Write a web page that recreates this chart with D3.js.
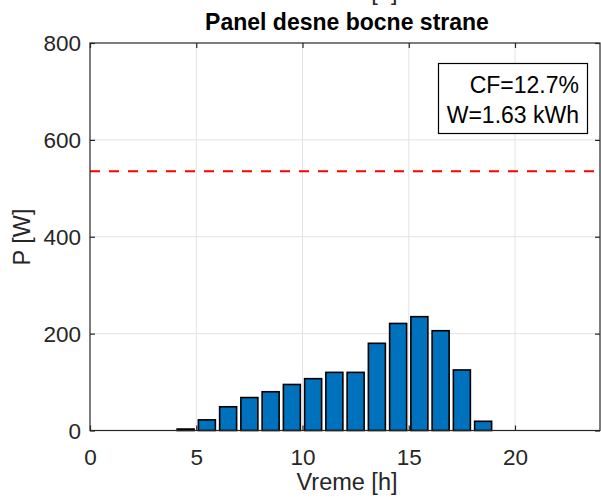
<!DOCTYPE html>
<html><head><meta charset="utf-8">
<script src="https://cdn.jsdelivr.net/npm/d3@7"></script>
<style>
body{margin:0;background:#fff}
svg text{font-family:"Liberation Sans",Arial,Helvetica,sans-serif}
</style>
</head><body>
<svg id="chart" width="601" height="500"></svg>
<script>
// ---- data ----
const hours = [0,1,2,3,4,5,6,7,8,9,10,11,12,13,14,15,16,17,18,19,20,21,22,23];
const power = [0,0,0,0,3,22,49,68,80,95,107,120,120,180,221,235,206,125,19,0,0,0,0,0];
const ratedPower = [535];
const xTicks = [0,5,10,15,20];
const yTicks = [0,200,400,600,800];
const titleText = "Panel desne bocne strane";
const xLabelText = "Vreme [h]";
const yLabelText = "P [W]";
const infoLines = ["CF=12.7%","W=1.63 kWh"];

// ---- layout ----
const L = 90, R = 600, T = 43, B = 430.5;
const svg = d3.select("#chart");
const x = d3.scaleLinear().domain([0,24]).range([L,R]);
const y = d3.scaleLinear().domain([0,800]).range([B,T]);
const axisColor = "#262626";
const tickFont = 22.5, labelFont = 23.5;

svg.append("rect").attr("width",601).attr("height",500).attr("fill","#fff");

// clipped-off x label of the panel above (only its lower edge is visible)
svg.append("text").attr("x",347).attr("y",0).attr("text-anchor","middle")
  .attr("font-size",labelFont).attr("fill",axisColor).text(xLabelText);

// grid
const grid = svg.append("g").attr("stroke","#e3e3e3").attr("stroke-width",1);
grid.selectAll("line.gx").data(xTicks.filter(d=>d>0)).join("line")
  .attr("x1",d=>x(d)).attr("x2",d=>x(d)).attr("y1",T).attr("y2",B);
grid.selectAll("line.gy").data(yTicks.filter(d=>d>0 && d<800)).join("line")
  .attr("y1",d=>y(d)).attr("y2",d=>y(d)).attr("x1",L).attr("x2",R);

// bars
const bw = 0.8;
svg.append("g").selectAll("rect").data(hours).join("rect")
  .attr("x",(h)=>x(h+0.5-bw/2))
  .attr("width",x(bw)-x(0))
  .attr("y",(h,i)=>y(power[i]))
  .attr("height",(h,i)=>y(0)-y(power[i]))
  .attr("fill","#0072BD").attr("stroke","#000").attr("stroke-width",1.6);

// rated power dashed line
svg.append("g").selectAll("line").data(ratedPower).join("line")
  .attr("x1",L).attr("x2",R).attr("y1",d=>y(d)).attr("y2",d=>y(d))
  .attr("stroke","#ff0000").attr("stroke-width",2).attr("stroke-dasharray","10,9");

// axes box
svg.append("rect").attr("x",L).attr("y",T).attr("width",R-L).attr("height",B-T)
  .attr("fill","none").attr("stroke",axisColor).attr("stroke-width",1.2);

// ticks via d3 axes (inward)
const xb = svg.append("g").attr("transform",`translate(0,${B})`)
  .call(d3.axisBottom(x).tickValues(xTicks).tickSizeInner(-5).tickSizeOuter(0));
const xt = svg.append("g").attr("transform",`translate(0,${T})`)
  .call(d3.axisTop(x).tickValues(xTicks).tickSizeInner(-5).tickSizeOuter(0).tickFormat(""));
const yl = svg.append("g").attr("transform",`translate(${L},0)`)
  .call(d3.axisLeft(y).tickValues(yTicks).tickSizeInner(-5).tickSizeOuter(0));
const yr = svg.append("g").attr("transform",`translate(${R},0)`)
  .call(d3.axisRight(y).tickValues(yTicks).tickSizeInner(-5).tickSizeOuter(0).tickFormat(""));
[xb,xt,yl,yr].forEach(g=>{
  g.select(".domain").remove();
  g.selectAll("line").attr("stroke",axisColor).attr("stroke-width",1.2);
  g.selectAll("text").attr("font-size",tickFont).attr("fill",axisColor)
    .attr("font-family",'"Liberation Sans",Arial,sans-serif');
});
xb.selectAll("text").attr("dy",null).attr("y",34.5);
yl.selectAll("text").attr("x",-9).attr("dy","0.35em");

// title & labels
svg.append("text").attr("x",347).attr("y",30).attr("text-anchor","middle")
  .attr("font-size",23).attr("font-weight","bold").attr("fill","#000").text(titleText);
svg.append("text").attr("x",347).attr("y",490).attr("text-anchor","middle")
  .attr("font-size",labelFont).attr("fill",axisColor).text(xLabelText);
svg.append("text").attr("transform",`translate(30,237) rotate(-90)`).attr("text-anchor","middle")
  .attr("font-size",labelFont).attr("fill",axisColor).text(yLabelText);

// info box
svg.append("rect").attr("x",438.5).attr("y",63.5).attr("width",149).attr("height",70)
  .attr("fill","#fff").attr("stroke","#000").attr("stroke-width",1.2);
svg.append("g").selectAll("text").data(infoLines).join("text")
  .attr("x",579).attr("y",(d,i)=>93+i*30).attr("text-anchor","end")
  .attr("font-size",23).attr("fill","#000").text(d=>d);
</script>
</body></html>
